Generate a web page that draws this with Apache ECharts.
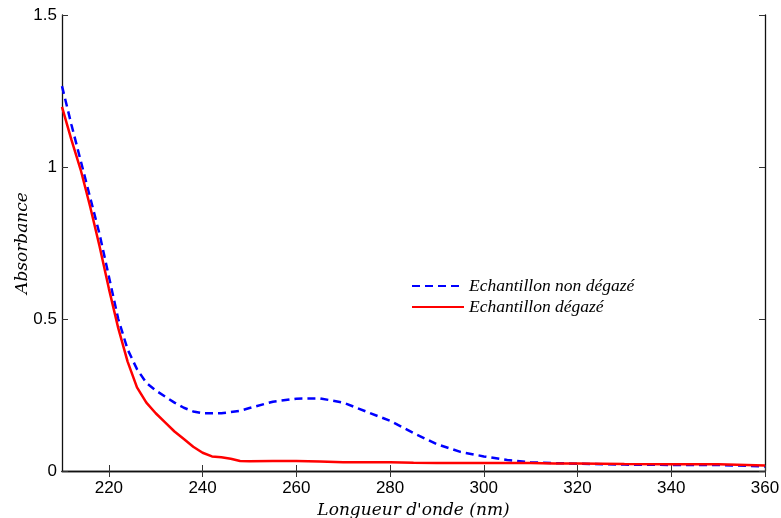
<!DOCTYPE html>
<html>
<head>
<meta charset="utf-8">
<script src="https://cdn.jsdelivr.net/npm/echarts@6/dist/echarts.min.js"></script>
<style>html,body{margin:0;padding:0;background:#fff}#c{width:781px;height:518px}</style>
</head>
<body>
<div id="c"></div>
<script>
const wavelengths = [210,212,214,216,218,220,222,224,226,228,230,232,234,236,238,240,242,244,246,248,250,255,260,265,270,275,280,285,290,295,300,305,310,315,320,330,340,350,360];
const nonDegaze = [1.266,1.14,1.02,0.90,0.78,0.64,0.50,0.40,0.335,0.29,0.265,0.245,0.225,0.208,0.196,0.19,0.19,0.19,0.194,0.198,0.207,0.228,0.238,0.239,0.225,0.195,0.165,0.125,0.088,0.063,0.048,0.036,0.029,0.026,0.024,0.021,0.02,0.02,0.015];
const degaze = [1.198,1.09,0.99,0.87,0.74,0.60,0.47,0.36,0.275,0.225,0.19,0.16,0.13,0.105,0.08,0.06,0.048,0.045,0.04,0.033,0.032,0.033,0.033,0.031,0.029,0.029,0.029,0.027,0.026,0.026,0.026,0.026,0.026,0.025,0.025,0.023,0.022,0.022,0.018];
const xTicks = [220,240,260,280,300,320,340,360];
const yTicks = [0,0.5,1,1.5];
const seriesNames = ['Echantillon non dégazé','Echantillon dégazé'];

const chart = echarts.init(document.getElementById('c'), null, {renderer:'canvas'});
const axisLine = {show:true, lineStyle:{color:'#111', width:1.3}};
const tick = {show:true, inside:true, length:6, lineStyle:{color:'#333', width:1}};
const sansLabel = {color:'#000', fontSize:17, fontFamily:'Liberation Sans, Arial, sans-serif'};
const serifName = {fontFamily:'DejaVu Serif, serif', fontStyle:'italic', fontSize:17, color:'#000'};
chart.setOption({
  animation:false,
  grid:{left:62, right:16, top:15, bottom:47, outerBoundsMode:'none', containLabel:false},
  legend:{
    orient:'vertical', left:406, top:272, itemWidth:52, itemHeight:14, itemGap:3,
    itemStyle:{opacity:0},
    textStyle:{fontFamily:'Liberation Serif, Times New Roman, serif', fontStyle:'italic', fontSize:17.5, color:'#000'},
    data:seriesNames
  },
  xAxis:[{
    type:'value', min:210, max:360, position:'bottom',
    axisLine:axisLine, splitLine:{show:false},
    axisTick:Object.assign({}, tick, {customValues:xTicks}),
    axisLabel:Object.assign({}, sansLabel, {customValues:xTicks, margin:9}),
    name:"Longueur d'onde (nm)", nameLocation:'middle', nameGap:31, nameMoveOverlap:false,
    nameTextStyle:serifName
  },{
    type:'value', min:210, max:360, position:'top',
    axisLine:axisLine, splitLine:{show:false},
    axisTick:Object.assign({}, tick, {customValues:xTicks}),
    axisLabel:{show:false}
  }],
  yAxis:[{
    type:'value', min:0, max:1.5, interval:0.5, position:'left',
    axisLine:axisLine, splitLine:{show:false},
    axisTick:Object.assign({}, tick, {customValues:yTicks}),
    axisLabel:Object.assign({}, sansLabel, {customValues:yTicks, margin:5, formatter:v=>String(v)}),
    name:'Absorbance', nameLocation:'middle', nameGap:31, nameRotate:90, nameMoveOverlap:false,
    nameTextStyle:serifName
  },{
    type:'value', min:0, max:1.5, interval:0.5, position:'right',
    axisLine:axisLine, splitLine:{show:false},
    axisTick:Object.assign({}, tick, {customValues:yTicks}),
    axisLabel:{show:false}
  }],
  series:[{
    name:seriesNames[0], type:'line', symbol:'none', smooth:false,
    data:wavelengths.map((w,i)=>[w,nonDegaze[i]]),
    lineStyle:{color:'#0000ff', width:2.5, type:[8,5]}, itemStyle:{color:'#0000ff'}
  },{
    name:seriesNames[1], type:'line', symbol:'none', smooth:false,
    data:wavelengths.map((w,i)=>[w,degaze[i]]),
    lineStyle:{color:'#ff0000', width:2.5}, itemStyle:{color:'#ff0000'}
  }]
});
</script>
</body>
</html>
